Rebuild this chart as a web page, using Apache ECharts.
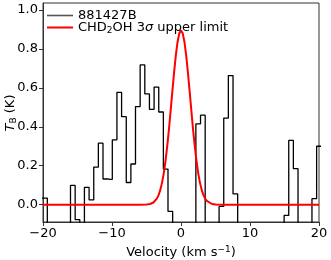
<!DOCTYPE html>
<html><head><meta charset="utf-8">
<script src="https://cdn.jsdelivr.net/npm/echarts@6/dist/echarts.min.js"></script>
<style>html,body{margin:0;padding:0;background:#fff}#c{width:331px;height:260px}</style>
</head><body><div id="c"></div>
<script>
// Channel centres (km/s) of the observed spectrum
var velocity = [-20.39,-19.71,-19.04,-18.37,-17.70,-17.02,-16.35,-15.68,-15.00,-14.33,-13.66,-12.98,-12.31,-11.64,-10.97,-10.29,-9.62,-8.95,-8.27,-7.60,-6.93,-6.26,-5.58,-4.91,-4.24,-3.56,-2.89,-2.22,-1.55,-0.87,-0.20,0.47,1.15,1.82,2.49,3.17,3.84,4.51,5.18,5.86,6.53,7.20,7.88,8.55,9.22,9.89,10.57,11.24,11.91,12.59,13.26,13.93,14.61,15.28,15.95,16.62,17.30,17.97,18.64,19.32,19.99,20.66];
// Brightness temperature (K) of 881427B
var tb = [0.034,0.034,-0.15,-0.20,-0.12,-0.18,-0.14,0.099,-0.077,-0.16,0.089,0.025,0.193,0.316,0.132,0.130,0.333,0.577,0.452,0.114,0.209,0.504,0.718,0.569,0.490,0.604,0.476,0.183,-0.034,-0.20,-0.25,-0.30,-0.22,-0.15,0.415,0.460,-0.18,-0.20,-0.14,-0.009,0.445,0.663,0.055,-0.12,-0.18,-0.15,-0.22,-0.17,-0.13,-0.19,-0.16,-0.14,-0.12,-0.055,0.330,0.185,-0.15,-0.20,-0.13,0.031,0.300,0.300];
// CHD2OH 3-sigma upper-limit profile
var modelVel = [-20,-6,-5,-4.5,-4,-3.75,-3.5,-3.25,-3,-2.75,-2.5,-2.25,-2,-1.75,-1.5,-1.25,-1,-0.75,-0.5,-0.25,0,0.25,0.5,0.75,1,1.25,1.5,1.75,2,2.25,2.5,2.75,3,3.25,3.5,3.75,4,4.5,5,6,20];
var modelTb = [0,0,0.001,0.0035,0.011,0.019,0.031,0.049,0.076,0.112,0.161,0.223,0.299,0.386,0.483,0.583,0.680,0.767,0.836,0.880,0.895,0.880,0.836,0.767,0.680,0.583,0.483,0.386,0.299,0.223,0.161,0.112,0.076,0.049,0.031,0.019,0.011,0.0035,0.001,0,0];
var yTicks = [0,0.2,0.4,0.6,0.8,1.0];
var xTicks = [-20,-10,0,10,20];
var seriesNames = ['881427B','CHD2OH 3σ upper limit'];

var chart = echarts.init(document.getElementById('c'), null, {renderer:'canvas'});
var font = 'DejaVu Sans';
function zip(a,b){return a.map(function(v,i){return [v,b[i]];});}
chart.setOption({
  animation:false,
  grid:{left:43,right:12,top:3,bottom:38,containLabel:false,outerBoundsMode:'none',show:true,borderColor:'#333',borderWidth:1,backgroundColor:'transparent'},
  graphic:[{
    type:'text',x:11,y:113,rotation:Math.PI/2,
    style:{text:'{i|T}{sub|B}{a| (K)}',align:'center',verticalAlign:'middle',
      fontFamily:font,fontSize:13,fill:'#000',
      rich:{a:{fontFamily:font,fontSize:13,fill:'#000',color:'#000'},
            i:{fontFamily:font,fontSize:13,fill:'#000',color:'#000',fontStyle:'italic'},
            sub:{fontFamily:font,fontSize:9,fill:'#000',color:'#000',padding:[6,0,0,0]}}}
  }],
  legend:{
    orient:'vertical',left:42,top:4,itemWidth:26,itemHeight:10,itemGap:-2,
    data:[{name:seriesNames[0],icon:'path://M0,0 L26,0 L26,1.6 L0,1.6 Z',itemStyle:{color:'#555'}},
          {name:seriesNames[1],icon:'path://M0,0 L26,0 L26,2 L0,2 Z',itemStyle:{color:'#ff0000'}}],
    textStyle:{fontFamily:font,fontSize:13,color:'#000',lineHeight:12,
      rich:{a:{fontFamily:font,fontSize:13,color:'#000',lineHeight:12},
            s:{fontFamily:font,fontSize:9,color:'#000',lineHeight:12,padding:[6,0,0,0]},
            i:{fontFamily:font,fontSize:13,color:'#000',lineHeight:12,fontStyle:'italic'}}},
    formatter:function(n){
      if(n===seriesNames[1]) return '{a|CHD}{s|2}{a|OH 3}{i|σ}{a| upper limit}';
      return '{a|'+n+'}';
    }
  },
  xAxis:{type:'value',min:-20,max:20,interval:10,
    name:'{a|Velocity (km s}{sup|−1}{a|)}',nameLocation:'middle',nameGap:17,
    nameTextStyle:{fontFamily:font,fontSize:13,color:'#000',
      rich:{a:{fontFamily:font,fontSize:13,color:'#000'},
            sup:{fontFamily:font,fontSize:9,color:'#000',padding:[0,0,7,0]}}},
    axisLine:{show:true,onZero:false,lineStyle:{color:'#333',width:1}},
    axisTick:{show:true,inside:false,length:4,lineStyle:{color:'#333'},customValues:xTicks},
    axisLabel:{fontFamily:font,fontSize:13,color:'#000',margin:5,customValues:xTicks,
      formatter:function(v){return String(v).replace('-','−');}},
    splitLine:{show:false}},
  yAxis:{type:'value',min:-0.089,max:1.036,
    axisLine:{show:true,onZero:false,lineStyle:{color:'#333',width:1}},
    axisTick:{show:true,inside:false,length:4,lineStyle:{color:'#333'},customValues:yTicks},
    axisLabel:{fontFamily:font,fontSize:13,color:'#000',margin:5,customValues:yTicks,
      formatter:function(v){return v.toFixed(1);}},
    splitLine:{show:false}},
  series:[
    {name:seriesNames[0],type:'line',step:'middle',data:zip(velocity,tb),symbol:'none',clip:true,
     lineStyle:{color:'#000',width:1.3},itemStyle:{color:'#555'},z:2},
    {name:seriesNames[1],type:'line',data:zip(modelVel,modelTb),symbol:'none',clip:true,
     lineStyle:{color:'#ff0000',width:2},itemStyle:{color:'#ff0000'},z:3}
  ]
});
</script></body></html>
